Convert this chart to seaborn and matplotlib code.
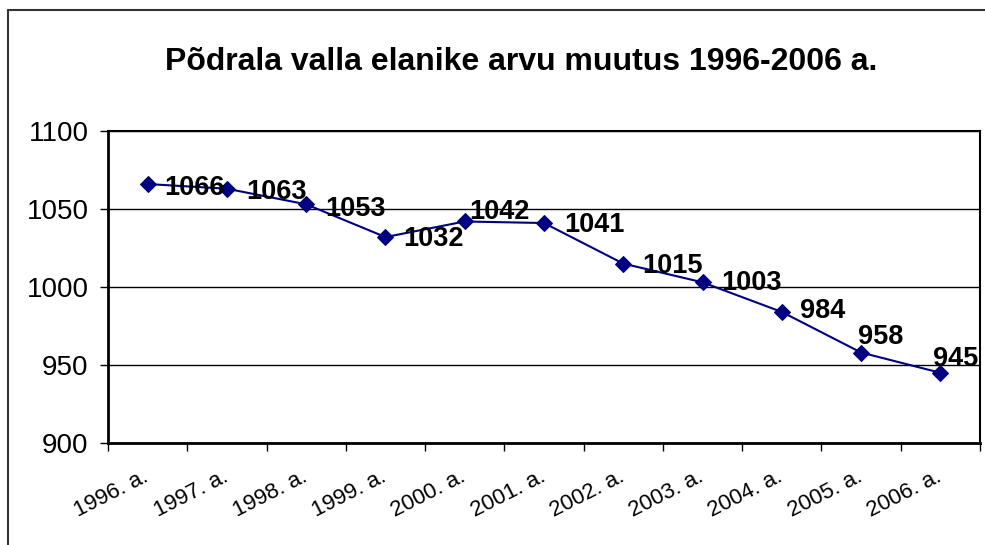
import seaborn as sns
import matplotlib.pyplot as plt
import matplotlib.transforms as mtransforms
from matplotlib.lines import Line2D

# Data
years = ['1996. a.', '1997. a.', '1998. a.', '1999. a.', '2000. a.', '2001. a.',
         '2002. a.', '2003. a.', '2004. a.', '2005. a.', '2006. a.']
residents = [1066, 1063, 1053, 1032, 1042, 1041, 1015, 1003, 984, 958, 945]

# label offsets in pixels (dx, dy), like the manually moved labels in the original
label_offsets = [(17, -4), (19, -3), (19, -5), (18, -2), (5, 9), (20, -2),
                 (19, -2), (19, -1), (18, 1), (-3, 16), (-7, 14)]

sns.set_style('white')
plt.rcParams['font.family'] = ['Liberation Sans', 'DejaVu Sans']
plt.rcParams['text.color'] = 'black'
plt.rcParams['xtick.color'] = 'black'
plt.rcParams['ytick.color'] = 'black'

fig = plt.figure(figsize=(9.85, 5.45), dpi=100)
ax = fig.add_axes([108 / 985, 1 - 443 / 545, (980 - 108) / 985, (443 - 131) / 545])

pos = list(range(len(years)))
sns.lineplot(x=pos, y=residents, ax=ax, color='#000080', linewidth=1.5,
             marker='D', markersize=8, markeredgecolor='#000080')

for i, v in enumerate(residents):
    dx, dy = label_offsets[i]
    ax.annotate(str(v), (i, v), xytext=(dx, dy), textcoords='offset pixels',
                ha='left', va='center', fontsize=19.5, fontweight='bold', color='black')

ax.set_ylim(900, 1100)
ax.set_yticks([900, 950, 1000, 1050, 1100])
ax.yaxis.grid(True, color='black', linewidth=1)
ax.tick_params(axis='y', labelsize=20, direction='out', length=6, width=1, left=True, pad=8)

# x ticks at category boundaries, labels at centers
ax.set_xlim(-0.5, len(years) - 0.5)
ax.set_xticks([i - 0.5 for i in range(len(years) + 1)])
ax.set_xticklabels([])
ax.set_xticks(pos, minor=True)
ax.set_xticklabels(years, minor=True, rotation=27, ha='right', rotation_mode='anchor',
                   fontsize=16)
ax.tick_params(axis='x', which='major', direction='out', length=6, width=1, bottom=True)
ax.tick_params(axis='x', which='minor', length=0, pad=17)
shift = mtransforms.ScaledTranslation(-5 / 100, 0, fig.dpi_scale_trans)
for lbl in ax.get_xticklabels(minor=True):
    lbl.set_transform(lbl.get_transform() + shift)

for side in ['left', 'bottom']:
    ax.spines[side].set_linewidth(2)
    ax.spines[side].set_color('black')
for side in ['top', 'right']:
    ax.spines[side].set_linewidth(1.5)
    ax.spines[side].set_color('black')

ax.set_xlabel('')
ax.set_ylabel('')

fig.text(521 / 985, 1 - 62 / 545, 'Põdrala valla elanike arvu muutus 1996-2006 a.',
         ha='center', va='center', fontsize=23, fontweight='bold')

# outer chart border (left and top visible)
fig.add_artist(Line2D([8 / 985, 8 / 985], [0, 1 - 10 / 545], color='#333333', linewidth=1.5))
fig.add_artist(Line2D([8 / 985, 1], [1 - 10 / 545, 1 - 10 / 545], color='#333333', linewidth=1.5))

fig.savefig('out.png', dpi=100)
